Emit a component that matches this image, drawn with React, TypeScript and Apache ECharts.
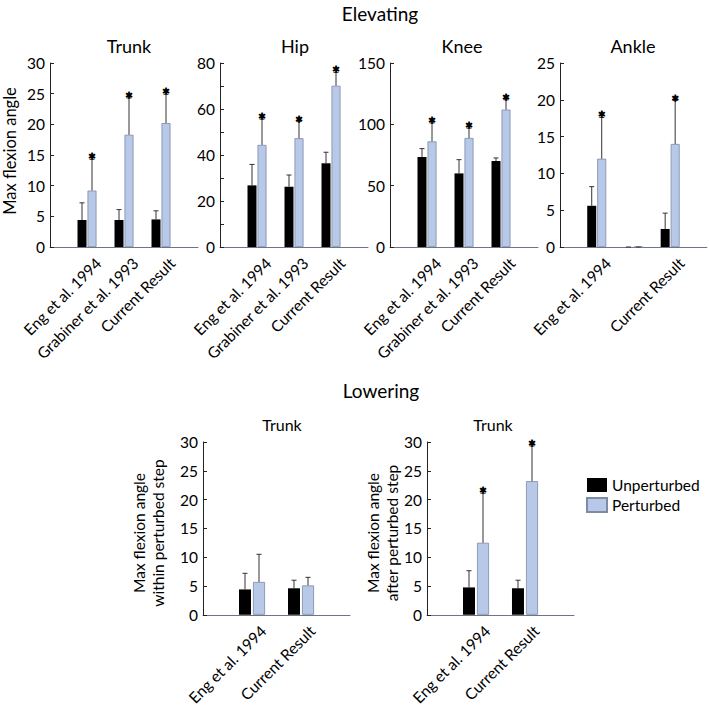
import React, { useEffect, useRef } from "react";
import * as echarts from "echarts";

// ---------- DATA ----------
const elevCats = ["Eng et al. 1994", "Grabiner et al. 1993", "Current Result"];
const ankleCats = ["Eng et al. 1994", "", "Current Result"];
const lowerCats = ["Eng et al. 1994", "Current Result"];

const trunkUnpert = [4.4, 4.4, 4.5];
const trunkUnpertSD = [2.8, 1.7, 1.4];
const trunkPert = [9.2, 18.3, 20.2];
const trunkPertSD = [5.1, 6.0, 4.7];
const trunkSig = [1, 1, 1];

const hipUnpert = [26.8, 26.2, 36.4];
const hipUnpertSD = [9.1, 5.1, 4.8];
const hipPert = [44.4, 47.3, 70.1];
const hipPertSD = [11.2, 7.2, 5.8];
const hipSig = [1, 1, 1];

const kneeUnpert = [73.4, 60.0, 70.1];
const kneeUnpertSD = [6.8, 11.2, 2.5];
const kneePert = [86.1, 88.9, 112.0];
const kneePertSD = [15.0, 8.0, 8.0];
const kneeSig = [1, 1, 1];

const ankleUnpert = [5.6, 0, 2.45];
const ankleUnpertSD = [2.6, 0, 2.15];
const anklePert = [12.0, 0, 14.0];
const anklePertSD = [5.6, 0, 5.9];
const ankleSig = [1, 0, 1];

const withinUnpert = [4.4, 4.6];
const withinUnpertSD = [2.8, 1.4];
const withinPert = [5.7, 5.1];
const withinPertSD = [4.8, 1.4];
const withinSig = [0, 0];

const afterUnpert = [4.75, 4.6];
const afterUnpertSD = [2.9, 1.4];
const afterPert = [12.5, 23.2];
const afterPertSD = [8.6, 6.1];
const afterSig = [1, 1];

const trunkTicks = { min: 0, max: 30, interval: 5 };
const hipTicks = { min: 0, max: 80, interval: 20 };
const kneeTicks = { min: 0, max: 150, interval: 50 };
const ankleTicks = { min: 0, max: 25, interval: 5 };
const lowerTicks = { min: 0, max: 30, interval: 5 };

// ---------- STYLE ----------
const FONT = "Lato, 'Noto Sans', sans-serif";
const BLACK = "#000000";
const BLUE = "#b7c8e8";
const BLUE_BORDER = "#7f8ba3";
const XAXIS_COLOR = "#6b7587";
const YAXIS_COLOR = "#222222";

type Panel = {
  cats: string[];
  unp: number[];
  unpSD: number[];
  per: number[];
  perSD: number[];
  sig: number[];
  ticks: { min: number; max: number; interval: number };
  minor?: boolean;
  grid: { left: number; top: number; width: number; height: number };
  barW: number;
  gapPct: string;
  off: number;
};

const panels: Panel[] = [
  { cats: elevCats, unp: trunkUnpert, unpSD: trunkUnpertSD, per: trunkPert, perSD: trunkPertSD, sig: trunkSig, ticks: trunkTicks,
    grid: { left: 50, top: 63, width: 148, height: 184 }, barW: 9, gapPct: "11%", off: 5 },
  { cats: elevCats, unp: hipUnpert, unpSD: hipUnpertSD, per: hipPert, perSD: hipPertSD, sig: hipSig, ticks: hipTicks, minor: true,
    grid: { left: 220, top: 63, width: 148, height: 184 }, barW: 9, gapPct: "11%", off: 5 },
  { cats: elevCats, unp: kneeUnpert, unpSD: kneeUnpertSD, per: kneePert, perSD: kneePertSD, sig: kneeSig, ticks: kneeTicks,
    grid: { left: 390, top: 63, width: 148, height: 184 }, barW: 9, gapPct: "11%", off: 5 },
  { cats: ankleCats, unp: ankleUnpert, unpSD: ankleUnpertSD, per: anklePert, perSD: anklePertSD, sig: ankleSig, ticks: ankleTicks,
    grid: { left: 560, top: 63, width: 148, height: 184 }, barW: 9, gapPct: "11%", off: 5 },
  { cats: lowerCats, unp: withinUnpert, unpSD: withinUnpertSD, per: withinPert, perSD: withinPertSD, sig: withinSig, ticks: lowerTicks,
    grid: { left: 203, top: 442, width: 147, height: 183 }, barW: 12, gapPct: "17%", off: 7 },
  { cats: lowerCats, unp: afterUnpert, unpSD: afterUnpertSD, per: afterPert, perSD: afterPertSD, sig: afterSig, ticks: lowerTicks,
    grid: { left: 427, top: 442, width: 147, height: 183 }, barW: 12, gapPct: "17%", off: 7 },
];

function buildOption() {
  const grid: any[] = [];
  const xAxis: any[] = [];
  const yAxis: any[] = [];
  const series: any[] = [];

  panels.forEach((p, i) => {
    grid.push({ ...p.grid, containLabel: false });
    const axisCats = ["", ...p.cats, ""];
    xAxis.push({
      type: "category",
      gridIndex: i,
      data: axisCats,
      boundaryGap: false,
      axisLine: { lineStyle: { color: XAXIS_COLOR, width: 1 } },
      axisTick: { show: false },
      axisLabel: {
        interval: 0,
        rotate: 45,
        margin: 2,
        align: "right",
        verticalAlign: "top",
        padding: [8, 0, 0, 0],
        fontFamily: FONT,
        fontSize: 15.5,
        color: "#000",
      },
      splitLine: { show: false },
    });
    yAxis.push({
      type: "value",
      gridIndex: i,
      min: p.ticks.min,
      max: p.ticks.max,
      interval: p.ticks.interval,
      axisLine: { show: true, lineStyle: { color: YAXIS_COLOR, width: 1 } },
      axisTick: { show: true, inside: true, length: 4, lineStyle: { color: YAXIS_COLOR } },
      minorTick: p.minor
        ? { show: true, splitNumber: 2, length: 4, lineStyle: { color: YAXIS_COLOR } }
        : { show: false },
      axisLabel: { fontFamily: FONT, fontSize: 15.5, color: "#000", margin: 5 },
      splitLine: { show: false },
    });

    const unpData = ["-", ...p.unp, "-"];
    const perData = ["-", ...p.per, "-"];
    series.push({
      name: "Unperturbed",
      type: "bar",
      xAxisIndex: i,
      yAxisIndex: i,
      data: unpData,
      barWidth: p.barW,
      barGap: p.gapPct,
      itemStyle: { color: BLACK },
    });
    series.push({
      name: "Perturbed",
      type: "bar",
      xAxisIndex: i,
      yAxisIndex: i,
      data: perData,
      barWidth: p.barW,
      barGap: p.gapPct,
      itemStyle: { color: BLUE, borderColor: BLUE_BORDER, borderWidth: 0.8 },
    });

    const errData: any[] = [];
    p.cats.forEach((_, k) => {
      errData.push([k + 1, p.unp[k], p.unpSD[k], -1, 0]);
      errData.push([k + 1, p.per[k], p.perSD[k], 1, p.sig[k]]);
    });
    const off = p.off;
    series.push({
      type: "custom",
      xAxisIndex: i,
      yAxisIndex: i,
      data: errData,
      z: 5,
      clip: false,
      silent: true,
      itemStyle: { color: "#000" },
      renderItem: (params: any, api: any) => {
        const x = api.value(0);
        const v = api.value(1);
        const sd = api.value(2);
        const side = api.value(3);
        const sig = api.value(4);
        const p0 = api.coord([x, v]);
        const p1 = api.coord([x, v + sd]);
        const cx = p0[0] + side * off;
        const children: any[] = [
          {
            type: "line",
            shape: { x1: cx, y1: p0[1], x2: cx, y2: p1[1] },
            style: { stroke: "#333", lineWidth: 1 },
          },
          {
            type: "line",
            shape: { x1: cx - 2.5, y1: p1[1], x2: cx + 2.5, y2: p1[1] },
            style: { stroke: "#333", lineWidth: 1 },
          },
        ];
        if (sig) {
          children.push({
            type: "text",
            x: cx,
            y: p1[1] + 10,
            style: {
              text: "*",
              fontFamily: FONT,
              fontSize: 19,
              fill: "#000",
              stroke: "#000",
              lineWidth: 0.9,
              textAlign: "center",
              textVerticalAlign: "bottom",
            },
          });
        }
        return { type: "group", children };
      },
    });
  });

  const txt = (text: string, x: number, y: number, size: number, rot = 0, lh?: number) => ({
    type: "text",
    x,
    y,
    rotation: rot,
    style: {
      text,
      fontFamily: FONT,
      fontSize: size,
      fill: "#000",
      textAlign: "center",
      textVerticalAlign: "middle",
      lineHeight: lh,
    },
  });

  const graphic = [
    txt("Elevating", 380, 13, 19),
    txt("Trunk", 129, 46, 18),
    txt("Hip", 295, 46, 18),
    txt("Knee", 462, 46, 18),
    txt("Ankle", 633, 46, 18),
    txt("Lowering", 381, 390, 19),
    txt("Trunk", 282, 424, 16),
    txt("Trunk", 493, 424, 16),
    txt("Max flexion angle", 10, 151, 16.5, Math.PI / 2),
    txt("Max flexion angle\nwithin perturbed step", 148, 533, 15.5, Math.PI / 2, 19),
    txt("Max flexion angle\nafter perturbed step", 382, 533, 15.5, Math.PI / 2, 19),
  ];

  return {
    animation: false,
    backgroundColor: "#ffffff",
    grid,
    xAxis,
    yAxis,
    series,
    graphic,
    legend: {
      data: ["Unperturbed", "Perturbed"],
      orient: "vertical",
      left: 581,
      top: 472,
      itemWidth: 20,
      itemHeight: 14,
      itemGap: 4,
      icon: "rect",
      textStyle: { fontFamily: FONT, fontSize: 15.5, color: "#000" },
    },
  };
}

export default function App() {
  const ref = useRef<HTMLDivElement>(null);
  useEffect(() => {
    if (!ref.current) return;
    const chart = echarts.init(ref.current, undefined, { renderer: "svg" });
    chart.setOption(buildOption() as any);
    return () => chart.dispose();
  }, []);
  return (
    <div
      ref={ref}
      style={{ position: "absolute", left: 0, top: 0, width: 709, height: 708, background: "#fff" }}
    />
  );
}
